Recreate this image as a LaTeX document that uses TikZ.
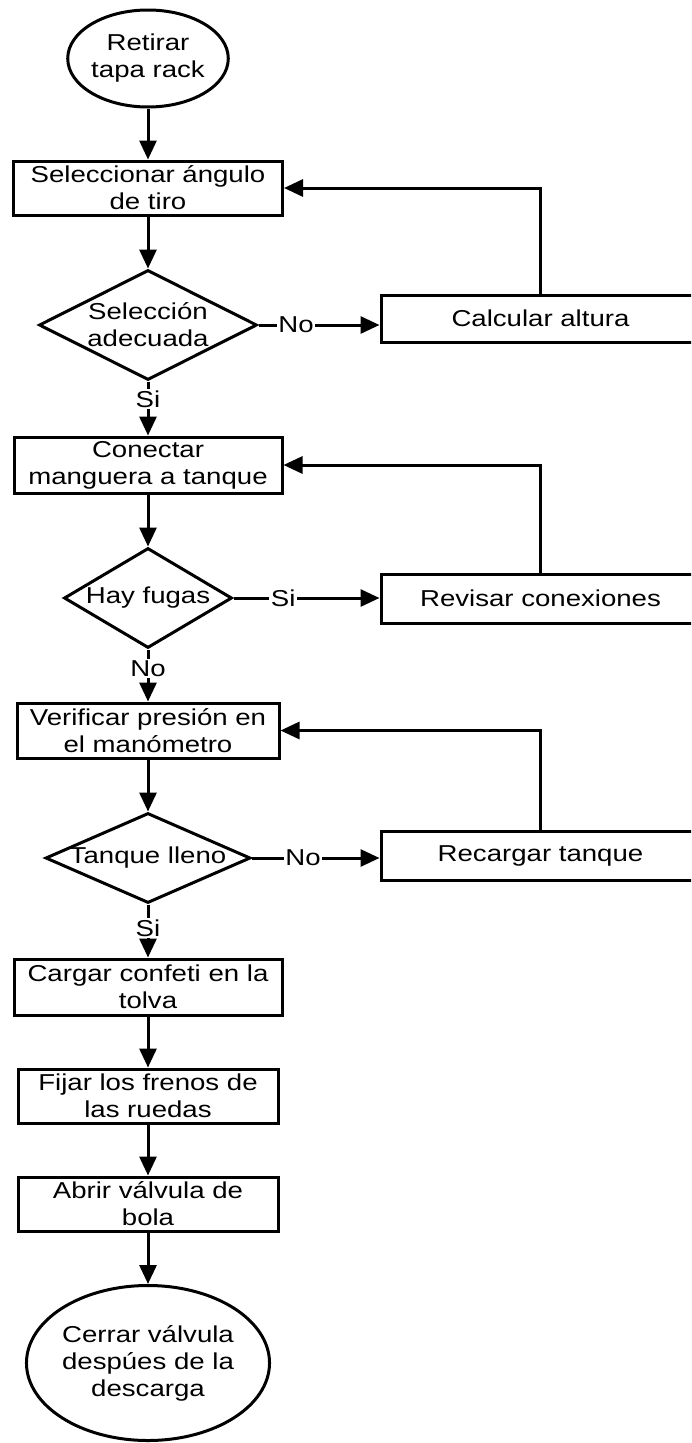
\documentclass[tikz,border=0pt]{standalone}
\usepackage{fontspec}
\setmainfont{Liberation Sans}[FakeStretch=1.2]
\usetikzlibrary{shapes.geometric,arrows.meta}
\tikzset{
  every node/.style={font=\fontsize{23}{27}\selectfont},
  flow/.style={line width=3pt},
  arr/.style={flow,-{Triangle[length=19pt,width=17pt]}},
  procbox/.style={draw,flow,rectangle,inner sep=0pt,align=center},
  decbox/.style={draw,flow,diamond,inner sep=0pt},
  termbox/.style={draw,flow,ellipse,inner sep=0pt,align=center},
  txt/.style={align=center,inner sep=0pt},
  lbl/.style={fill=white,inner sep=1.5pt}
}
\begin{document}
\begin{tikzpicture}[x=1pt,y=-1pt]
\clip (0,0) rectangle (691,1443);
\fill[white] (0,0) rectangle (691,1443);
% main column
\node[termbox,minimum width=153pt,minimum height=97pt] (start) at (148,58.5) {Retirar\\tapa rack};
\node[procbox,minimum width=269pt,minimum height=54pt] (b1) at (148,188) {Seleccionar ángulo\\de tiro};
\node[decbox,minimum width=218pt,minimum height=110pt] (d1) at (148,325) {};
\node[txt] (d1t) at (d1) {Selección\\adecuada};
\node[procbox,minimum width=319pt,minimum height=47pt] (calc) at (540.5,318.5) {Calcular altura};
\node[procbox,minimum width=268pt,minimum height=56pt] (b2) at (148,465) {Conectar\\manguera a tanque};
\node[decbox,minimum width=168pt,minimum height=100pt] (d2) at (148,598) {};
\node[txt] (d2t) at (d2) {Hay fugas};
\node[procbox,minimum width=319pt,minimum height=49pt] (rev) at (540.5,598.5) {Revisar conexiones};
\node[procbox,minimum width=262pt,minimum height=55pt] (b3) at (148,730.5) {Verificar presión en\\el manómetro};
\node[decbox,minimum width=205pt,minimum height=90pt] (d3) at (148,858) {};
\node[txt] (d3t) at (d3) {Tanque lleno};
\node[procbox,minimum width=319pt,minimum height=49pt] (rec) at (540.5,855.5) {Recargar tanque};
\node[procbox,minimum width=268pt,minimum height=56pt] (b4) at (148,987) {Cargar confeti en la\\tolva};
\node[procbox,minimum width=260pt,minimum height=54pt] (b5) at (148,1096) {Fijar los frenos de\\las ruedas};
\node[procbox,minimum width=260pt,minimum height=54pt] (b6) at (148,1204) {Abrir válvula de\\bola};
\node[termbox,minimum width=236pt,minimum height=155pt] (fin) at (148,1363) {Cerrar válvula\\despúes de la\\descarga};
% connectors
\draw[arr] (start.south) -- (b1.north);
\draw[arr] (b1.south) -- (d1.north);
\draw[arr] (d1.east) -- node[lbl,pos=0.31] (l1) {No} (d1.east -| calc.west);
\draw[arr] (calc.north) |- (b1.east);
\draw[arr] (d1.south) -- node[lbl,pos=0.32] (l2) {Si} (b2.north);
\draw[arr] (b2.south) -- (d2.north);
\draw[arr] (d2.east) -- node[lbl,pos=0.34] (l3) {Si} (d2.east -| rev.west);
\draw[arr] (rev.north) |- (b2.east);
\draw[arr] (d2.south) -- node[lbl,pos=0.36] (l4) {No} (b3.north);
\draw[arr] (b3.south) -- (d3.north);
\draw[arr] (d3.east) -- node[lbl,pos=0.4] (l5) {No} (d3.east -| rec.west);
\draw[arr] (rec.north) |- (b3.east);
\draw[arr] (d3.south) -- node[lbl,pos=0.45] (l6) {Si} (b4.north);
\draw[arr] (b4.south) -- (b5.north);
\draw[arr] (b5.south) -- (b6.north);
\draw[arr] (b6.south) -- (fin.north);
\end{tikzpicture}
\end{document}
